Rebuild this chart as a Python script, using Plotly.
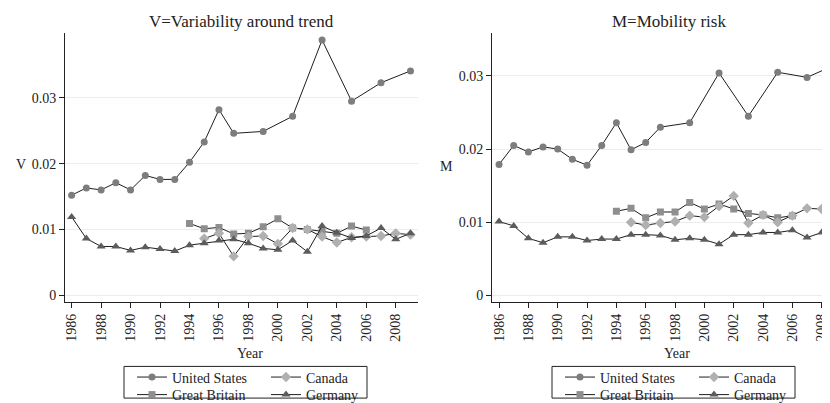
import plotly.graph_objects as go

# ---------------- data ----------------
us_years = [1986, 1987, 1988, 1989, 1990, 1991, 1992, 1993, 1994, 1995, 1996, 1997,
            1999, 2001, 2003, 2005, 2007, 2009]
gb_years = list(range(1994, 2007))
ca_years = list(range(1995, 2010))
de_years = list(range(1986, 2010))

# V = Variability around trend
us_v = [0.0152, 0.0163, 0.0160, 0.0171, 0.0160, 0.0182, 0.0176, 0.0176, 0.0202, 0.0233,
        0.0282, 0.0246, 0.0249, 0.0272, 0.0388, 0.0295, 0.0323, 0.0341]
gb_v = [0.0109, 0.0101, 0.0103, 0.0093, 0.0094, 0.0104, 0.0116, 0.0102, 0.0100,
        0.0097, 0.0094, 0.0105, 0.0099]
ca_v = [0.0086, 0.0094, 0.0059, 0.0089, 0.0090, 0.0078, 0.0102, 0.0100, 0.0089,
        0.0080, 0.0088, 0.0089, 0.0090, 0.0094, 0.0092]
de_v = [0.0119, 0.0086, 0.0074, 0.0074, 0.0068, 0.0073, 0.0070, 0.0067, 0.0076, 0.0079,
        0.0083, 0.0085, 0.0079, 0.0071, 0.0069, 0.0083, 0.0066, 0.0105, 0.0095, 0.0087,
        0.0090, 0.0102, 0.0085, 0.0094]

# M = Mobility risk
us_m = [0.0179, 0.0205, 0.0196, 0.0203, 0.0200, 0.0186, 0.0178, 0.0205, 0.0236, 0.0199,
        0.0209, 0.0230, 0.0236, 0.0304, 0.0245, 0.0305, 0.0298, 0.0316]
gb_m = [0.0115, 0.0119, 0.0106, 0.0114, 0.0114, 0.0127, 0.0118, 0.0125, 0.0118,
        0.0112, 0.0110, 0.0106, 0.0109]
ca_m = [0.0100, 0.0096, 0.0099, 0.0101, 0.0109, 0.0107, 0.0122, 0.0136, 0.0099,
        0.0110, 0.0100, 0.0109, 0.0119, 0.0118, 0.0106]
de_m = [0.0101, 0.0095, 0.0078, 0.0072, 0.0080, 0.0080, 0.0075, 0.0077, 0.0077, 0.0083,
        0.0083, 0.0082, 0.0076, 0.0078, 0.0076, 0.0070, 0.0083, 0.0083, 0.0086, 0.0086,
        0.0089, 0.0079, 0.0086, 0.0079]

y_tickvals = [0, 0.01, 0.02, 0.03]
y_ticktext = ["0", "0.01", "0.02", "0.03"]
x_tickvals = list(range(1986, 2009, 2))
x_ticktext = [str(v) for v in x_tickvals]

titles = ["V=Variability around trend", "M=Mobility risk"]
ytitles = ["V", "M"]
series_names = ["United States", "Great Britain", "Canada", "Germany"]

# ---------------- style ----------------
W, H = 830, 403
FONT = "Liberation Serif, Times New Roman, serif"
LINE_COL = "#1e1e1e"
styles = {
    "United States": dict(symbol="circle", color="#7d7d7d", size=7),
    "Great Britain": dict(symbol="square", color="#8e8e8e", size=7),
    "Canada": dict(symbol="diamond", color="#b0b0b0", size=8),
    "Germany": dict(symbol="triangle-up", color="#5c5c5c", size=8),
}


def px_x(v):
    return v / W


def px_y(v):
    return 1 - v / H


# legend slot for each series: (column offset px, row centre px)
legend_slots = {
    "United States": (0, 372),
    "Canada": (134, 372),
    "Great Britain": (0, 390),
    "Germany": (134, 390),
}
panel_leg_x0 = [124, 552]
LEG_OFF = 15

fig = go.Figure()
panels = [
    dict(xa="x", ya="y", data=[(us_years, us_v), (gb_years, gb_v), (ca_years, ca_v), (de_years, de_v)]),
    dict(xa="x2", ya="y2", data=[(us_years, us_m), (gb_years, gb_m), (ca_years, ca_m), (de_years, de_m)]),
]
leg_common = dict(orientation="v", bgcolor="rgba(0,0,0,0)", borderwidth=0,
                  font=dict(family=FONT, size=14, color="#222"), tracegroupgap=0,
                  xanchor="left", yanchor="top", visible=True)
legend_layouts = {}
k = 0
for pi, p in enumerate(panels):
    for name, (xs, ys) in zip(series_names, p["data"]):
        k += 1
        lname = "legend" if k == 1 else f"legend{k}"
        st = styles[name]
        fig.add_trace(go.Scatter(
            x=xs, y=ys, name=name, mode="lines+markers", showlegend=True,
            xaxis=p["xa"], yaxis=p["ya"], legend=lname,
            line=dict(color=LINE_COL, width=1),
            marker=dict(symbol=st["symbol"], color=st["color"], size=st["size"],
                        line=dict(width=0)),
        ))
        dx, cy = legend_slots[name]
        legend_layouts[lname] = dict(x=px_x(panel_leg_x0[pi] + dx), y=px_y(cy - LEG_OFF), **leg_common)

ydom = [px_y(297), px_y(25)]
common_x = dict(tickmode="array", tickvals=x_tickvals, ticktext=x_ticktext, tickangle=-90,
                ticks="outside", ticklen=5, tickcolor="#222", showgrid=False, zeroline=False,
                showline=True, linecolor="#222", linewidth=1,
                tickfont=dict(family=FONT, size=14, color="#222"))
common_y = dict(tickmode="array", tickvals=y_tickvals, ticktext=y_ticktext,
                ticks="outside", ticklen=5, tickcolor="#222", showgrid=True,
                gridcolor="#ececec", gridwidth=1, zeroline=False,
                showline=True, linecolor="#222", linewidth=1,
                tickfont=dict(family=FONT, size=14, color="#222"))

fig.update_layout(
    width=W, height=H, showlegend=True,
    margin=dict(l=0, r=0, t=0, b=0),
    paper_bgcolor="white", plot_bgcolor="white",
    font=dict(family=FONT, color="#222"),
    xaxis=dict(domain=[px_x(57), px_x(410)], range=[1985.55, 2009.51], anchor="y", **common_x),
    yaxis=dict(domain=ydom, range=[-0.00105, 0.0399], anchor="x", **common_y),
    xaxis2=dict(domain=[px_x(484), 1.0], range=[1985.52, 2009.11], anchor="y2", **common_x),
    yaxis2=dict(domain=ydom, range=[-0.00091, 0.0359], anchor="x2", **common_y),
    **legend_layouts,
)

# legend frames
for x0, x1 in [(116, 359), (544, 787)]:
    fig.add_shape(type="rect", xref="paper", yref="paper",
                  x0=px_x(x0), x1=px_x(x1), y0=px_y(394), y1=px_y(362),
                  line=dict(color="#222", width=1), fillcolor="rgba(0,0,0,0)")

annos = [
    (233, 14, titles[0], 17),
    (661, 14, titles[1], 17),
    (13, 158, ytitles[0], 14),
    (438, 160, ytitles[1], 14),
    (242, 349, "Year", 14),
    (669, 349, "Year", 14),
]
for x, y, t, s in annos:
    fig.add_annotation(x=px_x(x), y=px_y(y), xref="paper", yref="paper", text=t,
                       showarrow=False, xanchor="center", yanchor="middle",
                       font=dict(family=FONT, size=s, color="#222"))

fig.write_html("out.html")
